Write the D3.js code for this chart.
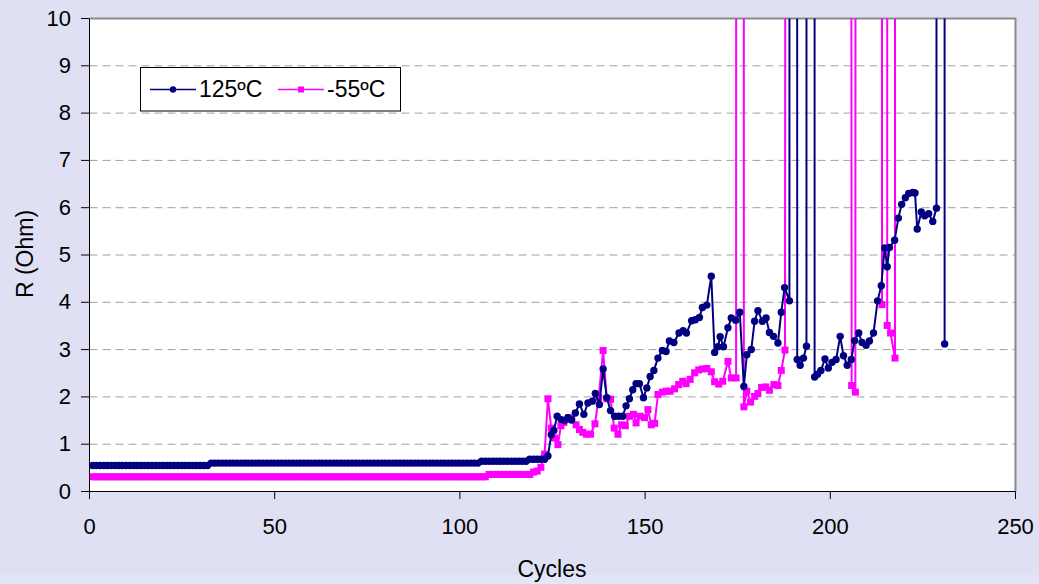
<!DOCTYPE html>
<html><head><meta charset="utf-8">
<script src="https://cdn.jsdelivr.net/npm/d3@7"></script>
<style>
html,body{margin:0;padding:0;background:#dfe0f3;}
svg{display:block;font-family:"Liberation Sans",Arial,sans-serif;}
</style></head><body>
<svg id="chart" width="1039" height="584"></svg>
<script>
const seriesNames = ["125ºC", "-55ºC"];
const xTicks = [0, 50, 100, 150, 200, 250];
const yTicks = [0, 1, 2, 3, 4, 5, 6, 7, 8, 9, 10];
const xTitle = "Cycles";
const yTitle = "R (Ohm)";

// 125ºC series: cycle, resistance (1000 = open / off-scale)
const cycles125 = [
 1,2,3,4,5,6,7,8,9,10,
 11,12,13,14,15,16,17,18,19,20,
 21,22,23,24,25,26,27,28,29,30,
 31,32,33,34,35,36,37,38,39,40,
 41,42,43,44,45,46,47,48,49,50,
 51,52,53,54,55,56,57,58,59,60,
 61,62,63,64,65,66,67,68,69,70,
 71,72,73,74,75,76,77,78,79,80,
 81,82,83,84,85,86,87,88,89,90,
 91,92,93,94,95,96,97,98,99,100,
 101,102,103,104,105,106,107,108,109,110,
 111,112,113,114,115,116,117,118,119,120,
 121,122,123,
 123.9,124.8,125.5,126.4,127.5,128.4,129.3,130.3,131.3,132.4,
 133.6,134.7,135.9,136.7,137.8,138.8,139.8,140.8,141.9,143.0,
 144.1,145.0,145.9,146.8,147.7,148.6,149.7,150.6,151.5,152.5,
 153.6,154.8,155.8,156.7,157.9,159.3,160.4,161.3,162.7,163.7,
 164.8,165.6,166.8,168.0,168.9,169.8,170.4,171.3,172.5,173.4,
 174.6,175.7,176.8,177.6,178.8,179.7,180.6,181.8,182.8,183.7,
 184.8,186.0,186.9,187.8,189.1,190.2,191.2,192.0,192.9,193.7,
 194.8,195.9,196.7,197.6,198.7,199.6,200.6,201.7,202.8,203.7,
 204.7,205.8,206.7,207.8,208.7,209.8,210.7,211.8,212.9,213.9,
 214.8,215.5,216.1,217.5,218.5,219.4,220.4,221.3,222.4,223.0,
 223.6,224.7,225.6,226.7,227.8,228.8,229.9,231.0
];
const ohm125 = [
 0.54,0.54,0.54,0.54,0.54,0.54,0.54,0.54,0.54,0.54,
 0.54,0.54,0.54,0.54,0.54,0.54,0.54,0.54,0.54,0.54,
 0.54,0.54,0.54,0.54,0.54,0.54,0.54,0.54,0.54,0.54,
 0.54,0.54,0.59,0.59,0.59,0.59,0.59,0.59,0.59,0.59,
 0.59,0.59,0.59,0.59,0.59,0.59,0.59,0.59,0.59,0.59,
 0.59,0.59,0.59,0.59,0.59,0.59,0.59,0.59,0.59,0.59,
 0.59,0.59,0.59,0.59,0.59,0.59,0.59,0.59,0.59,0.59,
 0.59,0.59,0.59,0.59,0.59,0.59,0.59,0.59,0.59,0.59,
 0.59,0.59,0.59,0.59,0.59,0.59,0.59,0.59,0.59,0.59,
 0.59,0.59,0.59,0.59,0.59,0.59,0.59,0.59,0.59,0.59,
 0.59,0.59,0.59,0.59,0.59,0.63,0.63,0.63,0.63,0.63,
 0.63,0.63,0.63,0.63,0.63,0.63,0.63,0.63,0.67,0.67,
 0.67,0.67,0.67,
 0.74,1.19,1.28,1.58,1.51,1.49,1.55,1.50,1.65,1.84,
 1.62,1.86,1.90,2.06,1.83,2.58,1.97,1.70,1.58,1.58,
 1.58,1.80,1.95,2.14,2.27,2.27,1.97,2.18,2.42,2.55,
 2.81,2.97,2.95,3.17,3.14,3.34,3.39,3.34,3.60,3.62,
 3.67,3.88,3.93,4.54,2.93,3.05,3.26,3.05,3.45,3.66,
 3.61,3.78,2.21,2.88,2.99,3.59,3.81,3.59,3.66,3.35,
 3.27,3.13,3.78,4.30,4.02,1000,2.78,2.66,2.81,3.06,
 1000,2.41,2.47,2.55,2.79,2.60,2.72,2.78,3.27,2.86,
 2.66,2.78,3.18,3.34,3.14,3.08,3.17,3.34,4.02,4.34,
 5.14,4.74,5.15,5.30,5.77,6.06,6.20,6.29,6.31,6.30,
 5.54,5.90,5.82,5.86,5.70,5.98,1000,3.11
];

// -55ºC series: cycle, resistance (1000 = open / off-scale)
const cyclesM55 = [
 1,2,3,4,5,6,7,8,9,10,
 11,12,13,14,15,16,17,18,19,20,
 21,22,23,24,25,26,27,28,29,30,
 31,32,33,34,35,36,37,38,39,40,
 41,42,43,44,45,46,47,48,49,50,
 51,52,53,54,55,56,57,58,59,60,
 61,62,63,64,65,66,67,68,69,70,
 71,72,73,74,75,76,77,78,79,80,
 81,82,83,84,85,86,87,88,89,90,
 91,92,93,94,95,96,97,98,99,100,
 101,102,103,104,105,106,107,108,109,110,
 111,112,113,114,115,116,117,118,119,120,
 121,122,
 123.0,123.9,124.8,125.7,126.6,127.4,128.2,129.5,130.3,131.5,
 132.4,133.3,134.3,135.4,136.6,137.6,138.8,139.8,140.8,141.8,
 142.8,143.8,144.8,145.9,147.0,147.7,148.8,150.0,150.9,151.8,
 152.7,153.6,154.8,155.8,156.9,158.1,159.2,160.3,161.2,162.3,
 163.5,164.6,165.7,166.8,168.0,168.9,170.0,171.1,172.5,173.4,
 174.7,175.8,176.8,177.6,178.6,179.7,180.6,181.6,182.7,183.7,
 184.9,186.0,186.9,187.9,196.9,205.9,206.9,210.5,214.1,214.8,
 215.5,216.4,217.6,218.6
];
const ohmM55 = [
 0.30,0.30,0.30,0.30,0.30,0.30,0.30,0.30,0.30,0.30,
 0.30,0.30,0.30,0.30,0.30,0.30,0.30,0.30,0.30,0.30,
 0.30,0.30,0.30,0.30,0.30,0.30,0.30,0.30,0.30,0.30,
 0.30,0.30,0.30,0.30,0.30,0.30,0.30,0.30,0.30,0.30,
 0.30,0.30,0.30,0.30,0.30,0.30,0.30,0.30,0.30,0.30,
 0.30,0.30,0.30,0.30,0.30,0.30,0.30,0.30,0.30,0.30,
 0.30,0.30,0.30,0.30,0.30,0.30,0.30,0.30,0.30,0.30,
 0.30,0.30,0.30,0.30,0.30,0.30,0.30,0.30,0.30,0.30,
 0.30,0.30,0.30,0.30,0.30,0.30,0.30,0.30,0.30,0.30,
 0.30,0.30,0.30,0.30,0.30,0.30,0.30,0.30,0.30,0.30,
 0.30,0.30,0.30,0.30,0.30,0.30,0.30,0.35,0.35,0.35,
 0.35,0.35,0.35,0.35,0.35,0.35,0.35,0.35,0.35,0.40,
 0.42,0.50,
 0.78,1.95,1.33,1.12,0.98,1.38,1.45,1.55,1.51,1.40,
 1.30,1.24,1.20,1.20,1.42,1.97,2.97,1.95,1.94,1.33,
 1.20,1.40,1.38,1.58,1.62,1.44,1.58,1.55,1.72,1.40,
 1.43,2.04,2.09,2.11,2.11,2.16,2.25,2.32,2.27,2.36,
 2.50,2.56,2.58,2.59,2.52,2.31,2.26,2.32,2.74,2.39,
 2.39,1000,1.78,2.11,1.88,2.00,2.06,2.19,2.20,2.13,
 2.25,2.23,2.55,2.98,1000,2.23,2.09,1000,3.94,1000,
 3.50,3.34,2.81,1000
];

if (cycles125.length !== ohm125.length) throw new Error("125 len " + cycles125.length + " vs " + ohm125.length);
if (cyclesM55.length !== ohmM55.length) throw new Error("-55 len " + cyclesM55.length + " vs " + ohmM55.length);

const data125 = d3.zip(cycles125, ohm125);
const dataM55 = d3.zip(cyclesM55, ohmM55);

const W = 1039, H = 584;
const svg = d3.select("#chart");

svg.append("rect").attr("width", W).attr("height", H).attr("fill", "#dfe0f3");
svg.append("rect").attr("x", 0).attr("y", 575).attr("width", W).attr("height", H - 575).attr("fill", "#e3e6f7");

const x = d3.scaleLinear().domain([0, 250]).range([89, 1015]);
const y = d3.scaleLinear().domain([0, 10]).range([491, 18]);

const px0 = x(0) + 0.5, px1 = x(250) + 0.5, py0 = y(10) + 0.5, py1 = y(0) + 0.5;

// plot area
svg.append("rect").attr("x", px0).attr("y", py0).attr("width", px1 - px0).attr("height", py1 - py0)
  .attr("fill", "#ffffff");

// gridlines
svg.append("g").selectAll("line").data(yTicks.filter(v => v > 0 && v < 10)).join("line")
  .attr("x1", px0).attr("x2", px1)
  .attr("y1", d => y(d) + 0.5).attr("y2", d => y(d) + 0.5)
  .attr("stroke", "#a0a0a0").attr("stroke-width", 1).attr("stroke-dasharray", "8,5");

// border top/right
svg.append("path").attr("d", `M${px0},${py0}H${px1}V${py1}`).attr("fill", "none")
  .attr("stroke", "#8a8a8a").attr("stroke-width", 2);

svg.append("defs").append("clipPath").attr("id", "clip").append("rect")
  .attr("x", px0 - 6).attr("y", py0).attr("width", px1 - px0 + 6).attr("height", py1 - py0);

const line = d3.line().x(d => x(d[0])).y(d => y(d[1]));
const plot = svg.append("g").attr("clip-path", "url(#clip)");

// -55ºC
plot.append("path").datum(dataM55).attr("d", line).attr("fill", "none")
  .attr("stroke", "#ff00ff").attr("stroke-width", 2).attr("stroke-linejoin", "round");
plot.append("g").selectAll("rect").data(dataM55.filter(d => d[1] <= 10)).join("rect")
  .attr("x", d => x(d[0]) - 3.5).attr("y", d => y(d[1]) - 3.5)
  .attr("width", 7).attr("height", 7).attr("fill", "#ff00ff");

// 125ºC
plot.append("path").datum(data125).attr("d", line).attr("fill", "none")
  .attr("stroke", "#000080").attr("stroke-width", 2).attr("stroke-linejoin", "round");
plot.append("g").selectAll("circle").data(data125.filter(d => d[1] <= 10)).join("circle")
  .attr("cx", d => x(d[0])).attr("cy", d => y(d[1])).attr("r", 3.7).attr("fill", "#000080");

// axes
const yAxis = svg.append("g").attr("transform", `translate(${x(0)},0)`)
  .call(d3.axisLeft(y).tickValues(yTicks).tickSize(8).tickSizeOuter(0).tickPadding(10).tickFormat(d3.format("d")));
const xAxis = svg.append("g").attr("transform", `translate(0,${y(0)})`)
  .call(d3.axisBottom(x).tickValues(xTicks).tickSize(8).tickSizeOuter(0).tickPadding(19).tickFormat(d3.format("d")));
[yAxis, xAxis].forEach(g => {
  g.select(".domain").attr("stroke", "#000").attr("stroke-width", 1);
  g.selectAll(".tick line").attr("stroke", "#000");
  g.selectAll(".tick text").attr("fill", "#000").style("font-size", "22px")
    .style("font-family", '"Liberation Sans", Arial, sans-serif');
});

// axis titles
svg.append("text").attr("transform", "translate(33,254) rotate(-90)")
  .attr("text-anchor", "middle").style("font-size", "23px").attr("fill", "#000").text(yTitle);
svg.append("text").attr("x", 552).attr("y", 577)
  .attr("text-anchor", "middle").style("font-size", "23px").attr("fill", "#000").text(xTitle);

// legend
const lg = svg.append("g");
lg.append("rect").attr("x", 140.5).attr("y", 67.5).attr("width", 260).attr("height", 43.5)
  .attr("fill", "#fff").attr("stroke", "#000").attr("stroke-width", 1);
const legendItems = [
  { name: seriesNames[0], color: "#000080", shape: "circle", x0: 150, tx: 199 },
  { name: seriesNames[1], color: "#ff00ff", shape: "square", x0: 278, tx: 327 }
];
legendItems.forEach(it => {
  const ly = 89.5;
  lg.append("line").attr("x1", it.x0).attr("x2", it.x0 + 46).attr("y1", ly).attr("y2", ly)
    .attr("stroke", it.color).attr("stroke-width", 1.6);
  if (it.shape === "circle") {
    lg.append("circle").attr("cx", it.x0 + 23).attr("cy", ly).attr("r", 3.2).attr("fill", it.color);
  } else {
    lg.append("rect").attr("x", it.x0 + 20).attr("y", ly - 3).attr("width", 6).attr("height", 6).attr("fill", it.color);
  }
  lg.append("text").attr("x", it.tx).attr("y", 97).style("font-size", "23px").attr("fill", "#000").text(it.name);
});
</script>
</body></html>
